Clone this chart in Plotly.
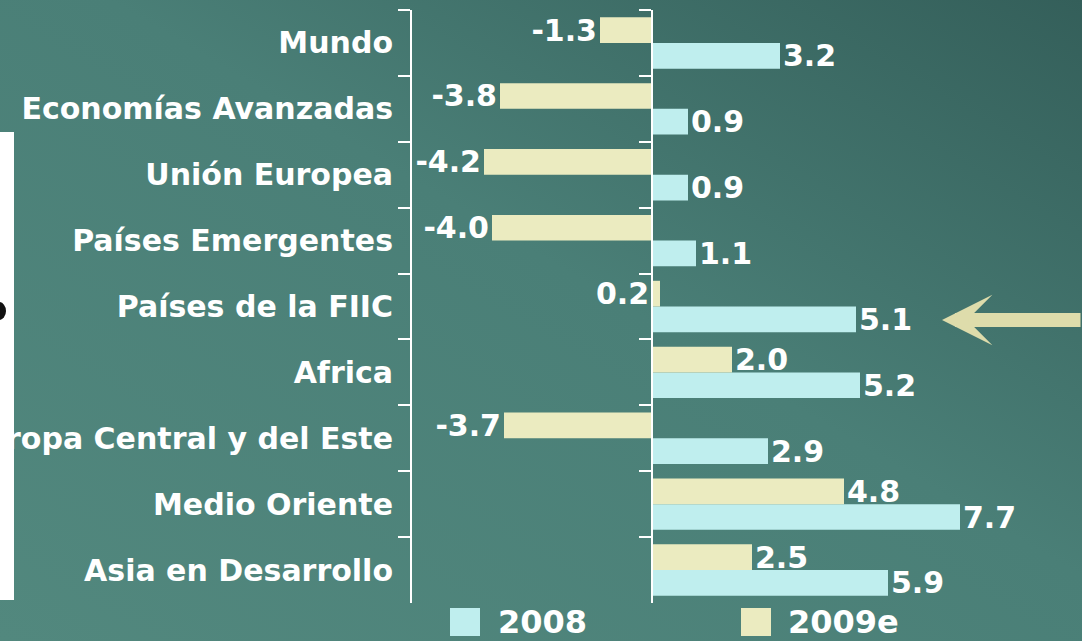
import base64
import plotly.graph_objects as go

categories = ["Mundo", "Economías Avanzadas", "Unión Europea", "Países Emergentes",
              "Países de la FIIC", "Africa", "Europa Central y del Este",
              "Medio Oriente", "Asia en Desarrollo"]
v2008 = [3.2, 0.9, 0.9, 1.1, 5.1, 5.2, 2.9, 7.7, 5.9]
v2009 = [-1.3, -3.8, -4.2, -4.0, 0.2, 2.0, -3.7, 4.8, 2.5]
series_names = ["2008", "2009e"]

C2008 = "#bfeeee"
C2009 = "#ebebc0"
FONT = "DejaVu Sans"

# plot geometry
L, R, T, B = 412, 0, 10, 38
W, H = 1082, 641
xrange_ = [-6, 10.75]
pw = W - L - R
ph = H - T - B

def px_x(p):
    return (p - L) / pw

def px_y(p):
    return (H - B - p) / ph

bw = 0.39
label_2009 = [f"{v:.1f}" if v < 0 or v >= 1 else "" for v in v2009]

fig = go.Figure()
fig.add_trace(go.Bar(
    y=categories, x=v2009, orientation="h", yaxis="y2", name=series_names[1],
    marker=dict(color=C2009, line=dict(width=0)), width=bw, offset=-bw,
    text=label_2009, textposition="outside", cliponaxis=False, constraintext="none",
    textfont=dict(family=FONT, size=30, color="white", weight="bold"),
    showlegend=False,
))
fig.add_trace(go.Bar(
    y=categories, x=v2008, orientation="h", yaxis="y", name=series_names[0],
    marker=dict(color=C2008, line=dict(width=0)), width=bw, offset=0,
    text=[f"{v:.1f}" for v in v2008], textposition="outside", cliponaxis=False,
    constraintext="none",
    textfont=dict(family=FONT, size=30, color="white", weight="bold"),
    showlegend=False,
))

annotations = []
# small positive 2009e values labelled on the left of the bar
for c, v, t in zip(categories, v2009, label_2009):
    if t == "":
        annotations.append(dict(
            x=0, y=c, xref="x", yref="y2", text=f"{v:.1f}", showarrow=False,
            xanchor="right", yanchor="middle", yshift=13, xshift=-1,
            font=dict(family=FONT, size=30, color="white", weight="bold")))

# legend
leg = [(450, 480, 496, C2008, series_names[0]), (741, 771, 786, C2009, series_names[1])]
shapes = []
for x0, x1, xt, col, name in leg:
    shapes.append(dict(type="rect", xref="paper", yref="paper",
                       x0=px_x(x0), x1=px_x(x1), y0=px_y(636), y1=px_y(608),
                       fillcolor=col, line=dict(width=0)))
    annotations.append(dict(x=px_x(xt), y=px_y(622), xref="paper", yref="paper",
                            text=name, showarrow=False, xanchor="left", yanchor="middle",
                            font=dict(family=FONT, size=32, color="white", weight="bold")))

# arrow pointing at FIIC
annotations.append(dict(x=px_x(942), y=px_y(320), xref="paper", yref="paper",
                        ax=150, ay=0, text="", showarrow=True, arrowhead=3,
                        arrowsize=0.6, arrowwidth=14, arrowcolor="#dedcab"))

# white strip on left (slide background element)
shapes.append(dict(type="rect", xref="paper", yref="paper", layer="below",
                   x0=px_x(0), x1=px_x(14), y0=px_y(600), y1=px_y(132),
                   fillcolor="white", line=dict(width=0)))
shapes.append(dict(type="circle", xref="paper", yref="paper", layer="below",
                   x0=px_x(-8), x1=px_x(6), y0=px_y(320), y1=px_y(302),
                   fillcolor="#111111", line=dict(width=0)))

svg = ('<svg xmlns="http://www.w3.org/2000/svg" width="1082" height="641" '
       'preserveAspectRatio="none" viewBox="0 0 1082 641">'
       '<defs><linearGradient id="g" x1="1" y1="0" x2="0" y2="1">'
       '<stop offset="0" stop-color="#345f5a"/>'
       '<stop offset="0.45" stop-color="#4a7f77"/>'
       '<stop offset="1" stop-color="#52887e"/>'
       '</linearGradient></defs>'
       '<rect width="1082" height="641" fill="url(#g)"/></svg>')
src = "data:image/svg+xml;base64," + base64.b64encode(svg.encode()).decode()

axis_common = dict(
    type="category", categoryorder="array", categoryarray=categories,
    range=[len(categories) - 0.5, -0.5], tickson="boundaries",
    ticks="outside", ticklen=12, tickwidth=2, tickcolor="white",
    showline=True, linecolor="white", linewidth=2, showgrid=False, zeroline=False,
    automargin=False,
)

fig.update_layout(
    width=W, height=H,
    margin=dict(l=L, r=R, t=T, b=B, autoexpand=False),
    paper_bgcolor="#4a7f77", plot_bgcolor="rgba(0,0,0,0)",
    barmode="overlay",
    xaxis=dict(range=xrange_, showgrid=False, zeroline=False, showticklabels=False,
               showline=False, ticks="", automargin=False),
    yaxis=dict(**axis_common, ticklabelstandoff=11,
               tickfont=dict(family=FONT, size=30, color="white", weight="bold")),
    yaxis2=dict(**axis_common, overlaying="y", anchor="free",
                position=(0 - xrange_[0]) / (xrange_[1] - xrange_[0]),
                side="left", showticklabels=False),
    shapes=shapes,
    annotations=annotations,
    images=[dict(source=src, xref="paper", yref="paper", x=px_x(0), y=px_y(0),
                 sizex=W / pw, sizey=H / ph, xanchor="left", yanchor="top",
                 sizing="stretch", layer="below")],
)

fig.write_html("out.html", config={"displayModeBar": False},
               post_script="document.body.style.margin='0';document.body.style.overflow='hidden';")
